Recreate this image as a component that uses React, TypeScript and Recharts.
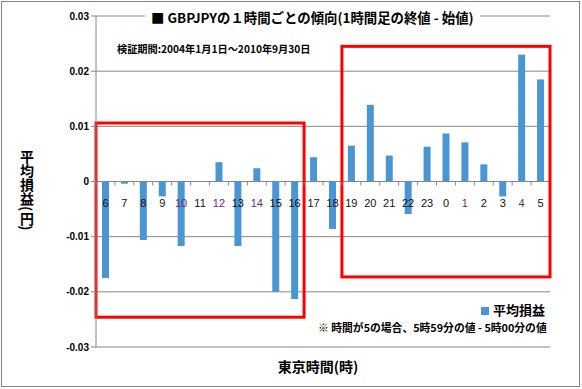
import { BarChart, Bar, XAxis, YAxis, CartesianGrid, ReferenceArea, Legend } from 'recharts';

const hours = ['6', '7', '8', '9', '10', '11', '12', '13', '14', '15', '16', '17', '18', '19', '20', '21', '22', '23', '0', '1', '2', '3', '4', '5'];
const avgPnl = [
  -0.0175, -0.0004, -0.0106, -0.0027, -0.0117, 0, 0.0035, -0.0117, 0.0024, -0.02, -0.0213, 0.0044,
  -0.0086, 0.0065, 0.0139, 0.0047, -0.0059, 0.0063, 0.0087, 0.0071, 0.0031, -0.0027, 0.023, 0.0185,
];
const yTicks = [-0.03, -0.02, -0.01, 0, 0.01, 0.02, 0.03];
const purpleHours = ['10', '12', '14', '1', '4'];

const data = hours.map((h, i) => ({ hour: h, 平均損益: avgPnl[i] }));

const W = 582;
const H = 389;
const M = { top: 16, right: 32, bottom: 41, left: 10 };
const Y_AXIS_W = 86;
const plotW = W - M.left - Y_AXIS_W - M.right;
const plotH = H - M.top - M.bottom - 1;
const band = plotW / hours.length;
const zeroY = M.top + (plotH * 0.03) / 0.06;

const GRID = '#868686';
const BLUE = '#4A96D2';
const FONT = '"Noto Sans CJK JP", "Liberation Sans", sans-serif';

const HourTick = (props: any) => {
  const { x, payload } = props;
  const color = purpleHours.includes(payload.value) ? '#6a1f78' : '#111';
  return (
    <g>
      <line x1={x - band / 2} x2={x - band / 2} y1={zeroY} y2={zeroY + 4} stroke={GRID} />
      <text x={x} y={zeroY + 25} fill={color} fontSize={11} fontFamily='"Liberation Sans", sans-serif' textAnchor="middle">
        {payload.value}
      </text>
    </g>
  );
};

const fmt = (v: number) => (v === 0 ? '0' : v.toFixed(2));

const RedBox = (props: any) => {
  const { x, y, width, height } = props;
  return <rect x={x} y={y} width={width} height={height} fill="none" stroke="#FF0000" strokeWidth={3} />;
};

export default function App() {
  return (
    <div style={{ position: 'absolute', left: 0, top: 0, width: W, height: H, background: '#fff', fontFamily: FONT }}>
      <div style={{ position: 'absolute', left: 1, top: 1, width: 579, height: 386, border: `1px solid ${GRID}`, boxSizing: 'border-box' }} />
      <BarChart width={W} height={H} data={data} margin={M} barSize={7}>
        <CartesianGrid vertical={false} stroke={GRID} strokeWidth={1} />
        <XAxis dataKey="hour" height={1} axisLine={false} tickLine={false} tick={<HourTick />} interval={0} />
        <YAxis
          domain={[-0.03, 0.03]}
          ticks={yTicks}
          width={Y_AXIS_W}
          tickFormatter={fmt}
          axisLine={{ stroke: GRID }}
          tickLine={{ stroke: GRID }}
          tickSize={5}
          tick={{ fill: '#000', fontSize: 10, fontWeight: 700, fontFamily: '"Liberation Sans", sans-serif' }}
        />
        <Bar dataKey="平均損益" fill={BLUE} isAnimationActive={false} />
        <ReferenceArea x1="6" x2="16" y1={0.0106} y2={-0.0246} ifOverflow="visible" shape={<RedBox />} />
        <ReferenceArea x1="19" x2="5" y1={0.0245} y2={-0.0173} ifOverflow="visible" shape={<RedBox />} />
        <Legend
          layout="horizontal"
          verticalAlign="middle"
          align="center"
          iconType="square"
          iconSize={8}
          wrapperStyle={{ left: 478, top: 296, width: 80 }}
          formatter={(v: string) => <span style={{ color: '#000', fontWeight: 700, fontSize: 13 }}>{v}</span>}
        />
      </BarChart>
      <div
        style={{
          position: 'absolute', left: 145, top: 8, padding: '0 6px', background: '#fff',
          fontSize: 13.4, fontWeight: 700, whiteSpace: 'nowrap', lineHeight: '18px',
        }}
      >
        ■ GBPJPYの１時間ごとの傾向(1時間足の終値 - 始値)
      </div>
      <div style={{ position: 'absolute', left: 117, top: 42, fontSize: 10.2, fontWeight: 700, whiteSpace: 'nowrap', lineHeight: '14px' }}>
        検証期間:2004年1月1日～2010年9月30日
      </div>
      <div style={{ position: 'absolute', left: 318, top: 320, fontSize: 10.8, fontWeight: 700, whiteSpace: 'nowrap', lineHeight: '14px' }}>
        ※ 時間が5の場合、5時59分の値 - 5時00分の値
      </div>
      <div style={{ position: 'absolute', left: 0, width: 636, top: 356, textAlign: 'center', fontSize: 14, fontWeight: 700, lineHeight: '20px' }}>
        東京時間(時)
      </div>
      <div
        style={{
          position: 'absolute', left: 18, top: 150, writingMode: 'vertical-rl', fontSize: 14, fontWeight: 700,
          lineHeight: '18px', letterSpacing: 0,
        }}
      >
        平均損益(円)
      </div>
    </div>
  );
}
